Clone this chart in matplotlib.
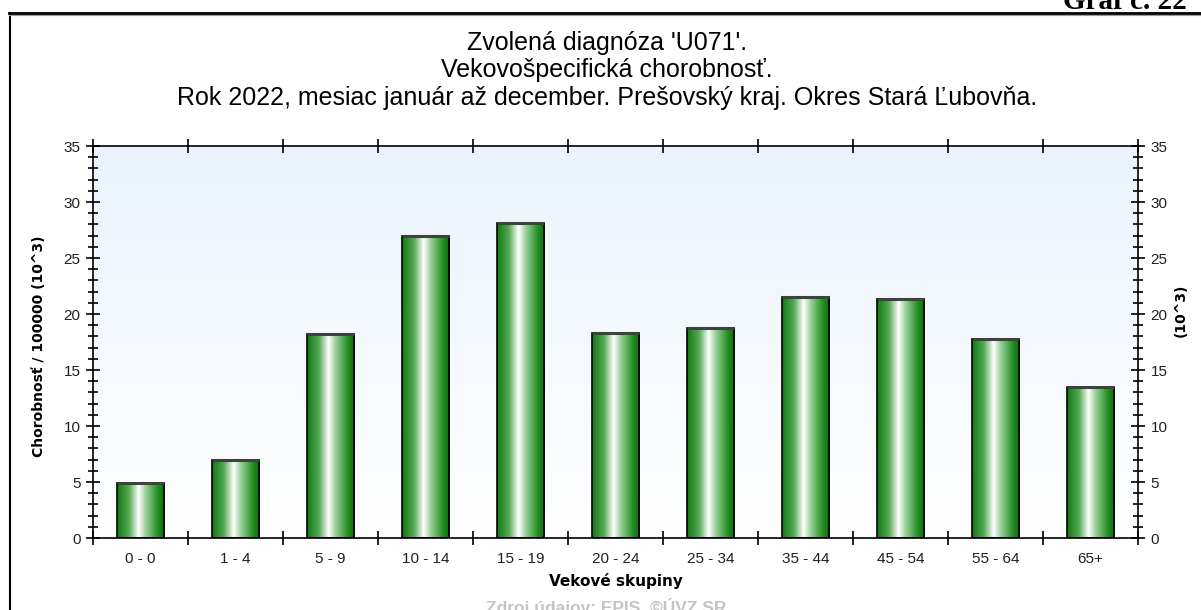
import numpy as np
import matplotlib
matplotlib.use("Agg")
import matplotlib.pyplot as plt
from matplotlib.colors import LinearSegmentedColormap
from matplotlib.lines import Line2D
from matplotlib.ticker import MultipleLocator, FixedLocator

plt.rcParams['font.family'] = ['Liberation Sans', 'DejaVu Sans']

groups = ["0 - 0", "1 - 4", "5 - 9", "10 - 14", "15 - 19", "20 - 24",
          "25 - 34", "35 - 44", "45 - 54", "55 - 64", "65+"]
values = [4.95, 7.0, 18.2, 27.0, 28.1, 18.3, 18.75, 21.5, 21.3, 17.8, 13.5]

title_lines = ["Zvolená diagnóza 'U071'.",
               "Vekovošpecifická chorobnosť.",
               "Rok 2022, mesiac január až december. Prešovský kraj. Okres Stará Ľubovňa."]

W, H = 1201, 610
fig = plt.figure(figsize=(W / 100, H / 100), dpi=100)
fig.patch.set_facecolor("white")

# outer frame (top + left edge)
fig.add_artist(Line2D([9 / W, 1.0], [1 - 13 / H, 1 - 13 / H], color="black", lw=2))
fig.add_artist(Line2D([10 / W, 10 / W], [0, 1 - 13 / H], color="black", lw=1.5))
fig.add_artist(Line2D([9 / W, 1.0], [1 - 15 / H, 1 - 15 / H], color="#9a9a9a", lw=0.8))
fig.text(1063 / W, 1 - 9 / H, "Graf č. 22", family="Liberation Serif", weight="bold",
         fontsize=21, ha="left", va="baseline")

x0, x1, ytop, ybot = 93, 1138, 146, 538
ax = fig.add_axes([x0 / W, 1 - ybot / H, (x1 - x0) / W, (ybot - ytop) / H])

# background gradient
bg = LinearSegmentedColormap.from_list("bg", ["#ffffff", "#eaf3fd"])
ax.imshow(np.linspace(0, 1, 256).reshape(-1, 1), cmap=bg, aspect="auto",
          extent=[-0.5, len(groups) - 0.5, 0, 35], origin="lower", zorder=0)

# bars with cylinder-like horizontal gradient
xs = np.arange(len(groups))
bars = ax.bar(xs, values, width=0.5, facecolor="none", edgecolor="black", lw=1.2, zorder=3)
gcmap = LinearSegmentedColormap.from_list(
    "bar", [(0, "#117811"), (0.25, "#55aa55"), (0.45, "#ffffff"),
            (0.6, "#9ad09a"), (0.85, "#259025"), (1, "#0a6a0a")])
grad = np.linspace(0, 1, 256).reshape(1, -1)
for b in bars:
    bx, bw, bh = b.get_x(), b.get_width(), b.get_height()
    im = ax.imshow(grad, cmap=gcmap, aspect="auto", extent=[bx, bx + bw, 0, bh], zorder=2)
    im.set_clip_path(b)
    ax.plot([bx, bx + bw], [bh, bh], color="#404040", lw=2.2, zorder=4, solid_capstyle="butt")
ax.set_xlim(-0.5, len(groups) - 0.5)
ax.set_ylim(0, 35)

# axes styling
for s in ax.spines.values():
    s.set_color("black")
    s.set_linewidth(1.2)
ax.set_xticks(xs, groups)
ax.xaxis.set_minor_locator(FixedLocator(np.arange(-0.5, len(groups), 1.0)))
ax.tick_params(axis="x", which="major", length=0, pad=10, labelsize=11)
ax.tick_params(axis="x", which="minor", direction="inout", length=10, width=1.2,
               top=True, bottom=True)
ax.yaxis.set_major_locator(MultipleLocator(5))
ax.yaxis.set_minor_locator(MultipleLocator(1))
ax.tick_params(axis="y", which="major", direction="inout", length=10, width=1.2,
               left=True, right=True, labelleft=True, labelright=True, labelsize=11, pad=4)
ax.tick_params(axis="y", which="minor", direction="inout", length=7, width=1.2,
               left=True, right=True)
for lab in ax.get_xticklabels() + ax.get_yticklabels():
    lab.set_color("#202020")

ax.set_xlabel("Vekové skupiny", fontsize=11, weight="bold", labelpad=5,
              family=["DejaVu Sans"])
ax.set_ylabel("Chorobnosť / 100000 (10^3)", fontsize=10, weight="bold", labelpad=6,
              family=["DejaVu Sans"])
ax.yaxis.set_label_coords(-0.045, 0.49)
fig.text(1181 / W, 1 - 310 / H, "(10^3)", rotation=90, fontsize=10, weight="bold",
         ha="center", va="center", family=["DejaVu Sans"])

# title
for i, t in enumerate(title_lines):
    fig.text(607 / W, 1 - (43 + 27.5 * i) / H, t, fontsize=18, ha="center", va="center")

fig.text(606 / W, 1 - 607 / H, "Zdroj údajov: EPIS, ©ÚVZ SR", fontsize=12.5, weight="bold",
         color="#c4c4c4", ha="center", va="center")

fig.savefig("out.png", dpi=100)
